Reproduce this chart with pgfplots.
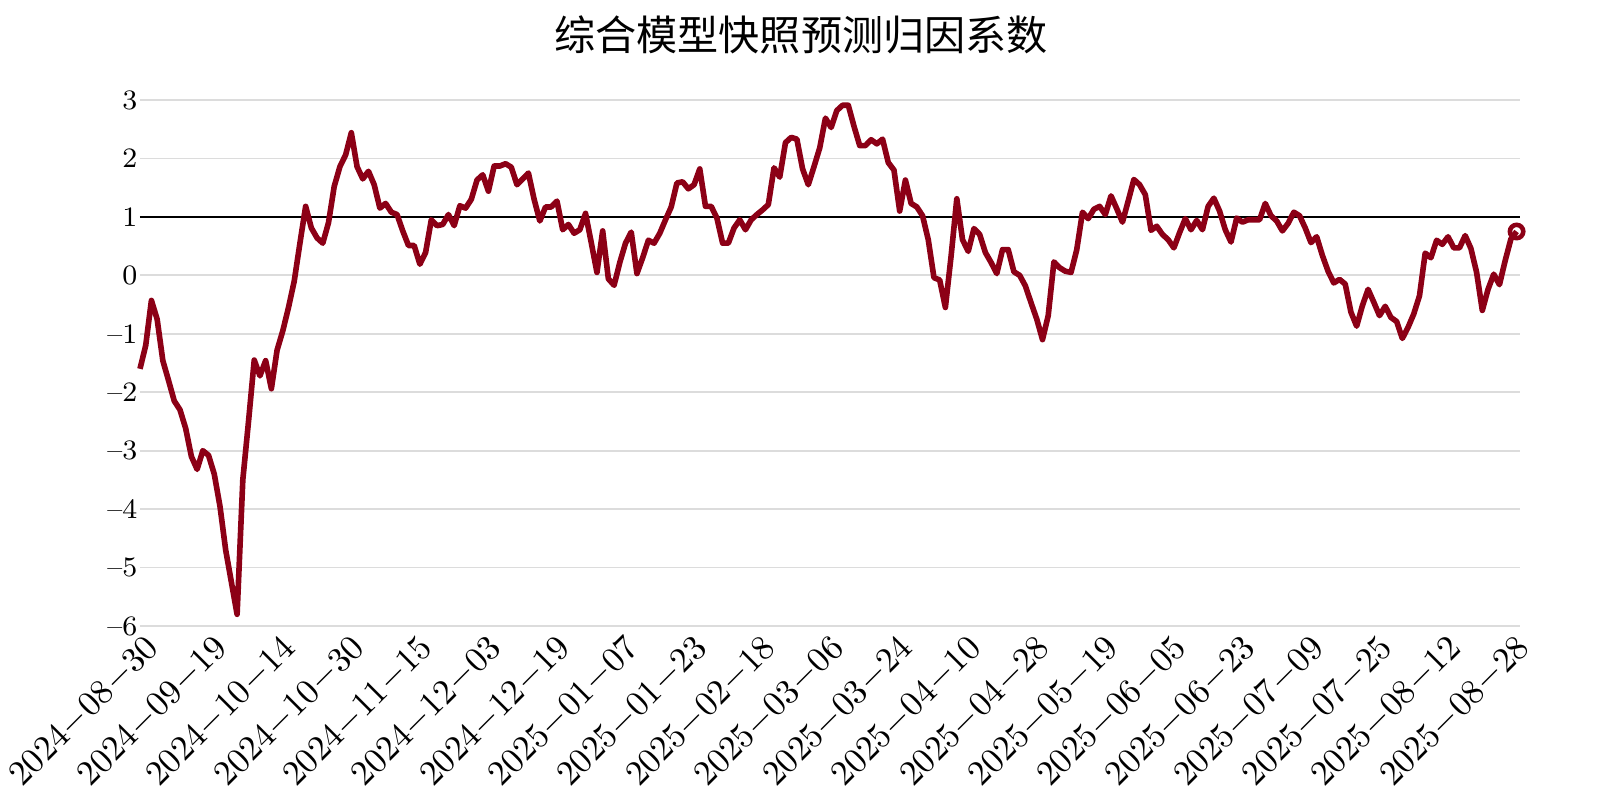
\documentclass[border=0pt]{standalone}
\usepackage{fontspec}
\newfontfamily\cjk{Noto Sans CJK SC}
\usepackage{pgfplots}
\usepackage{pgfplotstable}
\pgfplotsset{compat=1.18}
\definecolor{linered}{RGB}{140,0,22}
\definecolor{gridgray}{RGB}{220,220,220}
\pgfplotstableread{
v
-1.60
-1.20
-0.43
-0.75
-1.46
-1.80
-2.15
-2.30
-2.62
-3.10
-3.32
-3.00
-3.08
-3.40
-3.95
-4.70
-5.25
-5.80
-3.50
-2.50
-1.45
-1.72
-1.46
-1.94
-1.28
-0.95
-0.55
-0.10
0.55
1.18
0.81
0.64
0.55
0.90
1.52
1.86
2.06
2.44
1.86
1.65
1.78
1.55
1.15
1.23
1.08
1.04
0.76
0.51
0.51
0.19
0.39
0.95
0.85
0.87
1.04
0.85
1.19
1.15
1.30
1.63
1.72
1.44
1.87
1.87
1.91
1.85
1.55
1.65
1.75
1.30
0.93
1.17
1.17
1.27
0.78
0.87
0.72
0.78
1.06
0.56
0.05
0.76
-0.06
-0.17
0.22
0.55
0.74
0.03
0.30
0.60
0.55
0.72
0.95
1.17
1.58
1.60
1.48
1.55
1.82
1.18
1.18
0.98
0.55
0.55
0.81
0.95
0.78
0.95
1.04
1.12
1.21
1.84
1.68
2.27
2.36
2.33
1.82
1.55
1.86
2.18
2.69
2.53
2.82
2.91
2.91
2.55
2.22
2.22
2.32
2.25
2.33
1.93
1.80
1.10
1.63
1.23
1.17
1.02
0.61
-0.04
-0.08
-0.55
0.33
1.31
0.61
0.41
0.80
0.70
0.39
0.22
0.03
0.44
0.44
0.06
0.00
-0.18
-0.47
-0.75
-1.10
-0.69
0.23
0.13
0.07
0.05
0.44
1.08
0.97
1.13
1.18
1.04
1.36
1.14
0.91
1.27
1.64
1.55
1.38
0.77
0.84
0.70
0.61
0.47
0.73
0.97
0.78
0.94
0.78
1.18
1.32
1.10
0.78
0.57
0.98
0.91
0.95
0.95
0.95
1.23
1.02
0.93
0.76
0.89
1.08
1.02
0.81
0.56
0.66
0.34
0.07
-0.13
-0.07
-0.15
-0.63
-0.87
-0.52
-0.24
-0.46
-0.69
-0.53
-0.72
-0.79
-1.08
-0.89
-0.66
-0.35
0.38
0.30
0.60
0.53
0.66
0.47
0.47
0.68
0.46
0.05
-0.60
-0.24
0.02
-0.16
0.25
0.62
0.75
}\coef
\begin{document}
\begin{tikzpicture}
\path[use as bounding box] (-1.40,-1.74) rectangle (14.60,6.26);
\node[font=\cjk\fontsize{11.7}{13}\selectfont] at (6.61,5.91) {综合模型快照预测归因系数};
\begin{axis}[
  at={(0,0)}, anchor=south west,
  scale only axis, width=13.80cm, height=5.26cm,
  xmin=0, xmax=241.6, ymin=-6, ymax=3,
  axis line style={draw=none},
  major tick length=0pt,
  ymajorgrids, grid style={gridgray, line width=0.5pt},
  ytick={-6,-5,-4,-3,-2,-1,0,1,2,3},
  yticklabels={--6,--5,--4,--3,--2,--1,0,1,2,3},
  xtick={0,12,...,240},
  xticklabels={$2024{-}08{-}30$,$2024{-}09{-}19$,$2024{-}10{-}14$,$2024{-}10{-}30$,$2024{-}11{-}15$,$2024{-}12{-}03$,$2024{-}12{-}19$,$2025{-}01{-}07$,$2025{-}01{-}23$,$2025{-}02{-}18$,$2025{-}03{-}06$,$2025{-}03{-}24$,$2025{-}04{-}10$,$2025{-}04{-}28$,$2025{-}05{-}19$,$2025{-}06{-}05$,$2025{-}06{-}23$,$2025{-}07{-}09$,$2025{-}07{-}25$,$2025{-}08{-}12$,$2025{-}08{-}28$},
  xticklabel style={rotate=45, anchor=north east, inner sep=1pt, xshift=0.5pt, yshift=-1.2pt, font=\fontsize{10}{12}\selectfont},
  yticklabel style={inner sep=0.6pt, font=\fontsize{8}{10}\selectfont},
  clip=false,
]
\addplot[black, line width=0.6pt, forget plot] coordinates {(0,1) (241.6,1)};
\addplot[linered, line width=1.6pt, line join=round] table[x expr=\coordindex, y=v] {\coef};
\addplot[only marks, mark=o, mark size=1.9pt, linered, line width=1.3pt, mark options={fill=white}] coordinates {(241,0.75)};
\end{axis}
\end{tikzpicture}
\end{document}
